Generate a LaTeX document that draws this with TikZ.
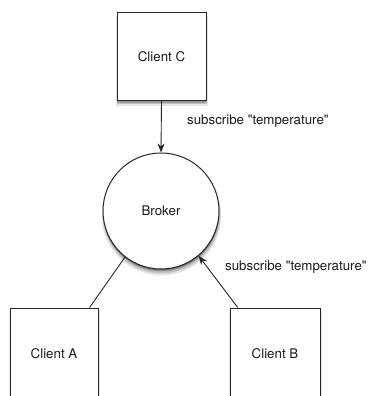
\documentclass[tikz,border=0pt]{standalone}
\usepackage{fontspec}
\setmainfont{TeX Gyre Heros}
\usetikzlibrary{arrows.meta,shadows,calc}
\begin{document}
\begin{tikzpicture}[x=1pt,y=-1pt,
  every node/.style={font=\fontsize{13.3}{15}\selectfont, text=black!90},
  soft/.style={
    drop shadow={shadow xshift=0.5pt, shadow yshift=-4.5pt, shadow scale=1.03, opacity=0.10, fill=black},
    drop shadow={shadow xshift=0.5pt, shadow yshift=-3.5pt, shadow scale=1.015, opacity=0.15, fill=black},
    drop shadow={shadow xshift=0.3pt, shadow yshift=-2.5pt, opacity=0.22, fill=black},
    drop shadow={shadow xshift=0.2pt, shadow yshift=-1.2pt, opacity=0.3, fill=black}},
  box/.style={draw=black!85, line width=1pt, fill=white, rectangle, inner sep=0pt, soft},
  roundbox/.style={draw=black!85, line width=1pt, fill=white, circle, inner sep=0pt, soft},
  link/.style={draw=black!85, line width=0.9pt},
  arr/.style={link, -{Stealth[length=9pt,width=7pt]}},
  lbl/.style={anchor=west, inner sep=0pt}
]
\useasboundingbox (0,0) rectangle (374,396);
\clip (0,0) rectangle (374,396);
\node[box, minimum width=89pt, minimum height=87pt] (C) at (161.5,56.5) {Client C};
\node[roundbox, minimum size=116pt] (Broker) at (161,211) {Broker};
\node[box, minimum width=88pt, minimum height=92pt] (A) at (54,354) {Client A};
\node[box, minimum width=90pt, minimum height=92pt] (B) at (275,354) {Client B};
\draw[arr] (C.south) -- (Broker.north);
\draw[link] ($(A.north)!0.8!(A.north east)$) -- (Broker.232);
\draw[arr] ($(B.north)!0.82!(B.north west)$) -- (Broker.310);
\node[lbl] (l1) at (187,121) {subscribe \textquotedbl temperature\textquotedbl};
\node[lbl] (l2) at (225,267) {subscribe \textquotedbl temperature\textquotedbl};
\end{tikzpicture}
\end{document}
